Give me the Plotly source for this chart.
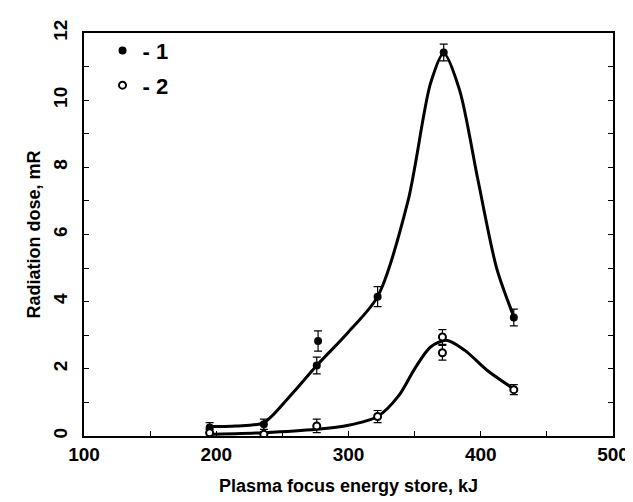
import plotly.graph_objects as go

# Measured points
energy_1 = [195, 236, 276, 277, 322, 372, 425]
dose_1 = [0.25, 0.35, 2.1, 2.83, 4.15, 11.42, 3.53]
err_1 = [0.15, 0.15, 0.25, 0.3, 0.3, 0.25, 0.25]

energy_2 = [195, 236, 276, 322, 371, 371, 425]
dose_2 = [0.1, 0.05, 0.3, 0.58, 2.95, 2.48, 1.38]
err_2 = [0.1, 0.08, 0.2, 0.18, 0.22, 0.22, 0.15]

# Smooth fitted curves
curve_x_1 = [193, 215, 236, 256, 276, 300, 322, 345, 362, 372, 384, 398, 412, 425]
curve_y_1 = [0.28, 0.3, 0.4, 1.2, 2.1, 3.1, 4.15, 7.0, 10.5, 11.4, 10.3, 7.6, 5.0, 3.55]
curve_x_2 = [193, 236, 276, 300, 322, 338, 350, 362, 374, 388, 405, 425]
curve_y_2 = [0.05, 0.1, 0.2, 0.32, 0.58, 1.2, 2.0, 2.65, 2.85, 2.55, 1.95, 1.4]

x_ticks = [100, 200, 300, 400, 500]
y_ticks = [0, 2, 4, 6, 8, 10, 12]

FONT = "Liberation Sans, Arial, sans-serif"

fig = go.Figure()
fig.add_trace(go.Scatter(x=curve_x_1, y=curve_y_1, mode="lines",
                         line=dict(color="black", width=3, shape="spline", smoothing=0.8),
                         showlegend=False, hoverinfo="skip"))
fig.add_trace(go.Scatter(x=curve_x_2, y=curve_y_2, mode="lines",
                         line=dict(color="black", width=3, shape="spline", smoothing=0.8),
                         showlegend=False, hoverinfo="skip"))
fig.add_trace(go.Scatter(x=energy_1, y=dose_1, mode="markers", name="<b>- 1</b>",
                         legendgroup="g1",
                         marker=dict(symbol="circle", size=8, color="black"),
                         error_y=dict(type="data", array=err_1, color="black", thickness=1.2, width=4)))
fig.add_trace(go.Scatter(x=energy_2, y=dose_2, mode="markers", name="<b>- 2</b>",
                         legendgroup="g2",
                         marker=dict(symbol="circle", size=7, color="white",
                                     line=dict(color="black", width=2)),
                         error_y=dict(type="data", array=err_2, color="black", thickness=1.2, width=4)))

fig.update_layout(
    width=633, height=502,
    margin=dict(l=76, r=25, t=17, b=74),
    paper_bgcolor="white", plot_bgcolor="white",
    font=dict(family=FONT, size=19, color="black"),
    showlegend=True,
    legend=dict(x=0.035, y=1.008, xanchor="left", yanchor="top",
                font=dict(family=FONT, size=22, color="black"),
                bgcolor="rgba(0,0,0,0)", itemwidth=30, tracegroupgap=3),
    xaxis=dict(range=[100, 500], tickvals=x_ticks, ticktext=["<b>%d</b>" % v for v in x_ticks],
               tickfont=dict(family=FONT, size=19),
               ticks="inside", ticklen=5, tickcolor="black",
               minor=dict(dtick=50, ticks="inside", ticklen=5, tickcolor="black"),
               showline=True, linecolor="black", linewidth=1.5, mirror=True,
               showgrid=False, zeroline=False,
               title=dict(text="<b>Plasma focus energy store, kJ</b>", standoff=16,
                          font=dict(family=FONT, size=18))),
    yaxis=dict(range=[0, 12], tickvals=y_ticks, ticktext=["<b>%d</b>" % v for v in y_ticks],
               tickangle=-90, tickfont=dict(family=FONT, size=19), ticklabelstandoff=8,
               ticks="inside", ticklen=5, tickcolor="black",
               minor=dict(dtick=1, ticks="inside", ticklen=5, tickcolor="black"),
               showline=True, linecolor="black", linewidth=1.5, mirror="ticks",
               showgrid=False, zeroline=False,
               title=dict(text="<b>Radiation dose, mR</b>", standoff=4,
                          font=dict(family=FONT, size=18))),
)

fig.write_html("out.html")
